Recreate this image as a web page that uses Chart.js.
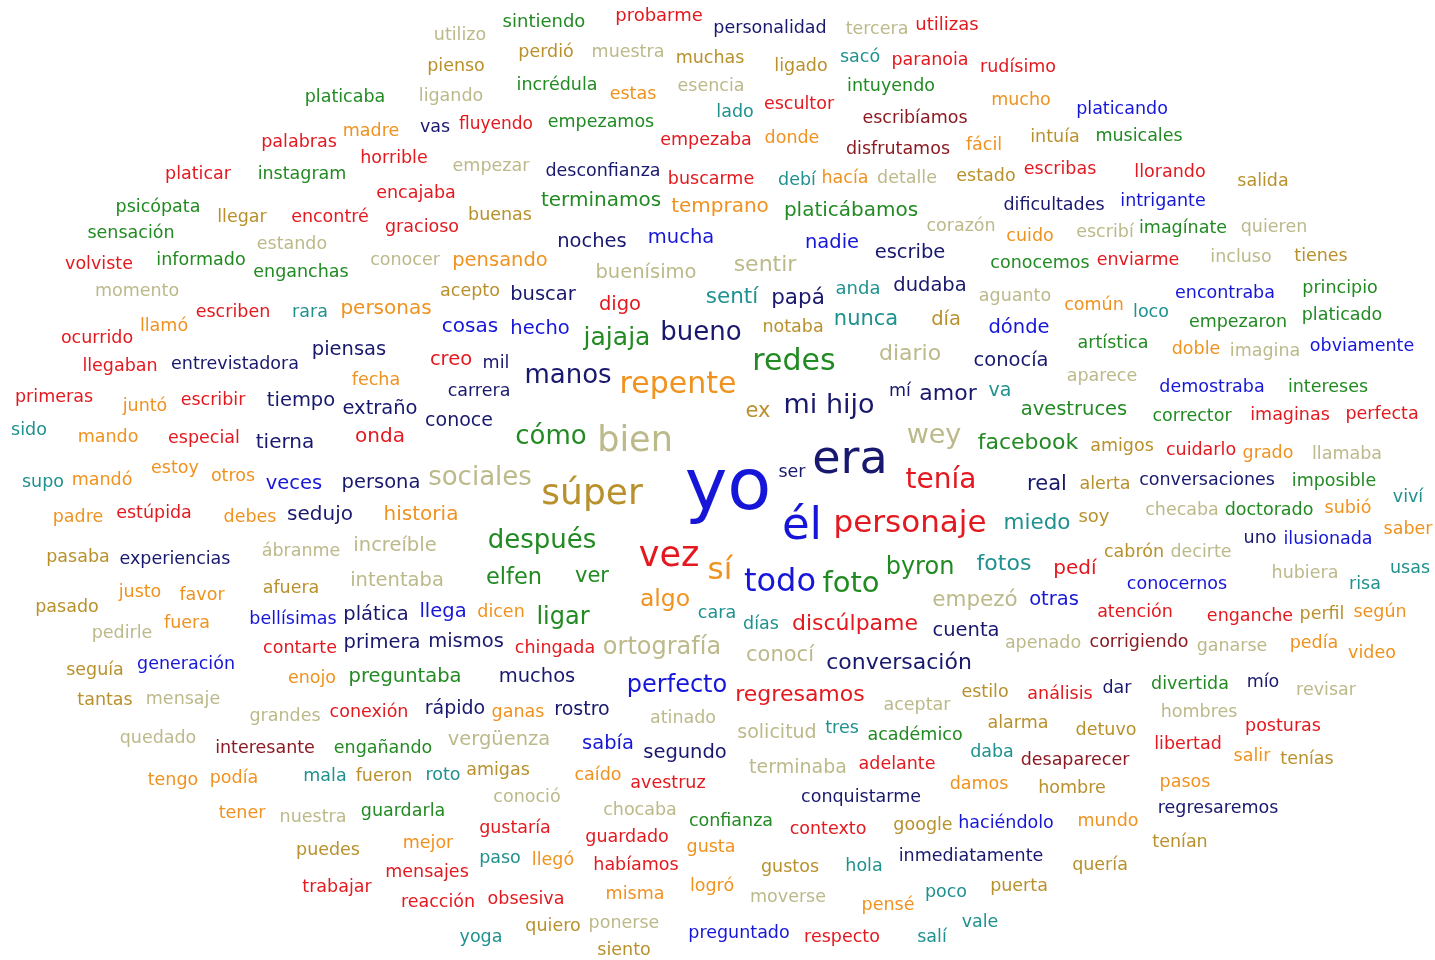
<!DOCTYPE html>
<html>
<head>
<meta charset="utf-8">
<title>Nube de palabras</title>
<script src="https://cdn.jsdelivr.net/npm/chart.js@4"></script>
<style>
  html, body { margin: 0; padding: 0; background: #fff; }
  #caja { width: 1435px; height: 960px; position: relative; }
</style>
</head>
<body>
<div id="caja"><canvas id="nube"></canvas></div>
<script>
// palabras de la nube, en filas de 10
var palabras = [
  'utilizo','sintiendo','probarme','personalidad','tercera','utilizas','pienso','perdió','muestra','muchas',
  'ligado','sacó','paranoia','rudísimo','platicaba','ligando','incrédula','estas','esencia','intuyendo',
  'mucho','platicando','lado','escultor','escribíamos','vas','fluyendo','empezamos','madre','palabras',
  'empezaba','donde','disfrutamos','fácil','intuía','musicales','horrible','platicar','instagram','empezar',
  'desconfianza','buscarme','debí','hacía','detalle','estado','escribas','llorando','salida','encajaba',
  'terminamos','temprano','platicábamos','corazón','dificultades','intrigante','psicópata','llegar','encontré','gracioso',
  'buenas','noches','mucha','nadie','escribe','cuido','escribí','imagínate','quieren','sensación',
  'estando','volviste','informado','enganchas','conocer','pensando','buenísimo','sentir','conocemos','enviarme',
  'incluso','tienes','momento','acepto','buscar','digo','sentí','papá','anda','dudaba',
  'aguanto','común','loco','encontraba','principio','platicado','empezaron','llamó','escriben','rara',
  'personas','cosas','hecho','jajaja','bueno','notaba','nunca','día','dónde','ocurrido',
  'llegaban','entrevistadora','piensas','creo','mil','manos','repente','redes','diario','conocía',
  'artística','doble','imagina','obviamente','fecha','carrera','aparece','primeras','juntó','escribir',
  'tiempo','extraño','conoce','ex','mi hijo','mí','amor','va','demostraba','intereses',
  'avestruces','corrector','imaginas','perfecta','sido','mando','especial','tierna','onda','cómo',
  'bien','wey','facebook','amigos','cuidarlo','grado','llamaba','supo','mandó','estoy',
  'otros','veces','persona','sociales','súper','yo','ser','era','tenía','real',
  'alerta','conversaciones','imposible','viví','padre','estúpida','debes','sedujo','historia','él',
  'personaje','miedo','soy','checaba','doctorado','subió','saber','uno','ilusionada','pasaba',
  'experiencias','ábranme','increíble','después','cabrón','decirte','vez','sí','byron','fotos',
  'pedí','conocernos','hubiera','risa','usas','justo','favor','afuera','intentaba','elfen',
  'ver','todo','foto','empezó','otras','algo','cara','atención','enganche','perfil',
  'según','pasado','pedirle','fuera','bellísimas','plática','llega','dicen','ligar','días',
  'discúlpame','cuenta','contarte','primera','mismos','chingada','ortografía','conocí','conversación','apenado',
  'corrigiendo','ganarse','pedía','video','seguía','generación','enojo','preguntaba','muchos','perfecto',
  'regresamos','aceptar','estilo','análisis','dar','divertida','mío','revisar','tantas','mensaje',
  'grandes','conexión','rápido','ganas','rostro','atinado','solicitud','tres','académico','alarma',
  'detuvo','hombres','posturas','quedado','interesante','engañando','vergüenza','sabía','segundo','daba',
  'desaparecer','libertad','salir','tenías','tengo','podía','mala','fueron','roto','amigas',
  'caído','avestruz','terminaba','adelante','damos','hombre','pasos','conoció','chocaba','conquistarme',
  'regresaremos','tener','nuestra','guardarla','gustaría','confianza','contexto','google','haciéndolo','mundo',
  'guardado','puedes','mejor','paso','llegó','gusta','tenían','mensajes','habíamos','gustos',
  'hola','inmediatamente','quería','trabajar','logró','moverse','pensé','poco','puerta','reacción',
  'obsesiva','misma','quiero','ponerse','yoga','preguntado','respecto','salí','vale','siento'
];

var posX = [
  460,544,659,770,877,947,456,546,628,710,
  801,860,930,1018,345,451,557,633,711,891,
  1021,1122,735,799,915,435,496,601,371,299,
  706,792,898,984,1055,1139,394,198,302,491,
  603,711,797,845,907,986,1060,1170,1263,416,
  601,720,851,961,1054,1163,158,242,330,422,
  500,592,681,832,910,1030,1105,1183,1274,131,
  292,99,201,301,405,500,646,765,1040,1138,
  1241,1321,137,470,543,620,732,798,858,930,
  1015,1094,1151,1225,1340,1342,1238,164,233,310,
  386,470,540,617,701,793,866,946,1019,97,
  120,235,349,451,496,568,678,794,910,1011,
  1113,1196,1265,1362,376,479,1102,54,145,213,
  301,380,459,758,829,900,948,1000,1212,1328,
  1074,1192,1290,1382,29,108,204,285,380,551,
  635,934,1028,1122,1201,1268,1347,43,102,175,
  233,294,381,480,592,728,792,850,941,1047,
  1105,1207,1334,1408,78,154,250,320,421,802,
  910,1037,1094,1182,1269,1348,1408,1260,1328,78,
  175,301,395,542,1134,1201,669,720,920,1004,
  1075,1177,1305,1365,1410,140,202,291,397,514,
  592,780,851,975,1054,665,717,1135,1250,1322,
  1380,67,122,187,293,376,443,501,563,761,
  855,966,300,382,466,555,662,780,899,1043,
  1139,1232,1314,1372,95,186,312,405,537,677,
  800,917,985,1060,1117,1190,1263,1326,105,183,
  285,369,455,518,582,683,777,842,915,1018,
  1106,1199,1283,158,265,383,499,608,685,992,
  1075,1188,1252,1307,173,234,325,384,443,498,
  598,668,798,897,979,1072,1185,527,640,861,
  1218,242,313,403,515,731,828,923,1006,1108,
  627,328,428,500,553,711,1180,427,636,790,
  864,971,1100,337,712,788,888,946,1019,438,
  526,635,553,624,481,739,842,932,980,624
];

var posY = [
  35,22,16,28,29,25,66,52,52,58,
  66,57,60,67,97,96,85,94,86,86,
  100,109,112,104,118,127,125,122,131,142,
  140,138,149,145,137,136,158,174,174,166,
  171,179,180,178,178,176,169,172,181,193,
  201,207,211,226,205,201,207,217,217,227,
  215,242,238,243,253,236,232,228,227,233,
  244,264,260,272,260,261,273,265,263,260,
  257,256,291,291,295,305,297,298,289,286,
  296,305,312,293,288,315,322,326,312,312,
  309,327,329,338,333,327,320,320,328,338,
  366,364,350,360,363,376,385,362,354,361,
  343,349,351,346,380,391,376,397,406,400,
  401,409,421,412,406,391,394,391,387,387,
  410,416,415,414,430,437,438,443,437,437,
  442,436,443,446,450,453,454,482,480,468,
  476,484,483,478,495,490,472,461,481,485,
  484,480,481,497,517,513,517,515,515,527,
  524,523,517,510,510,508,529,538,539,557,
  559,551,546,541,552,552,557,571,568,564,
  569,584,573,584,568,592,595,588,581,578,
  577,583,584,600,600,600,613,612,616,614,
  612,607,633,623,619,615,612,612,618,624,
  624,631,648,643,642,648,648,656,663,643,
  642,646,643,653,670,664,678,677,677,686,
  695,705,692,694,688,684,682,690,700,699,
  716,712,709,712,710,718,733,728,735,723,
  730,712,726,738,748,748,740,744,753,752,
  760,744,756,759,780,778,776,776,775,770,
  775,783,768,764,784,788,782,797,810,797,
  808,813,817,811,828,821,829,825,823,821,
  837,850,843,858,860,847,842,872,865,867,
  866,856,865,887,886,897,905,892,886,902,
  899,894,926,923,937,933,937,937,922,950
];

// peso de cada palabra (frecuencia relativa)
var pesos = [
  17.5,18,18,17.5,17.5,18,17.5,17.5,17.5,17.5,
  17.5,17.5,17.5,17.5,17.5,17.5,17.5,17.5,17.5,17.5,
  17.5,17.5,17.5,17.5,17.5,17.5,17,17.5,17.5,17.5,
  17.5,17.5,17.5,17.5,17.5,17.5,17.5,17.5,17.5,17.5,
  17.5,17.5,17.5,17.5,17.5,17.5,17.5,17.5,17.5,17.5,
  20,20,20,17.5,17.5,17.5,17.5,17.5,17.5,17.5,
  17.5,19.5,19.5,19.5,19.5,17.5,17.5,17.5,17.5,17.5,
  17.5,17.5,17.5,17.5,17.5,19.5,19.5,22,17.5,17.5,
  17.5,17.5,17.5,17.5,19.5,19.5,21.5,21.5,18,19.5,
  17.5,17.5,17.5,17.5,17.5,17.5,17.5,17.5,17.5,17.5,
  20,20,19.5,25,26,17.5,21,19.5,19.5,17.5,
  17.5,17.5,19.5,19.5,17.5,26,30,30,22,19.5,
  17.5,17.5,17.5,17.5,17.5,17.5,17.5,17.5,17.5,17.5,
  19.5,19.5,19,21,27,17.5,22,19,17.5,17.5,
  19.5,17.5,17.5,17.5,17.5,17.5,17.5,20,20,26,
  35,27,22,17.5,17.5,17.5,17.5,17.5,17.5,17.5,
  17.5,19.5,19.5,26,36,72,17.5,46,28,21,
  17.5,17.5,17.5,17.5,17.5,17.5,17.5,20,20,45,
  31,21.5,18,17.5,17.5,17.5,17.5,17.5,17.5,17.5,
  17.5,17.5,19.5,26,17.5,17.5,35,31,24,22,
  20,17.5,17.5,17.5,17.5,17.5,17.5,17.5,19.5,22.5,
  21,32,29,21.5,19.5,23.5,17.5,17.5,17.5,17.5,
  17.5,17.5,17.5,17.5,17.5,19.5,19.5,17.5,24,17.5,
  22,19.5,17.5,19.5,19.5,17.5,24,21,22,17.5,
  17.5,17.5,17.5,17.5,17.5,17.5,17.5,19.5,19.5,24,
  22,17.5,17.5,17.5,17.5,17.5,17.5,17.5,17.5,17.5,
  17.5,17.5,19,17.5,19,17.5,19,17.5,17.5,17.5,
  17.5,17.5,17.5,17.5,17.5,17.5,19.5,19.5,19.5,17.5,
  17.5,17.5,17.5,17.5,17.5,17.5,17.5,17.5,17.5,17.5,
  17.5,17.5,19,17.5,17.5,17.5,17.5,17.5,17.5,17.5,
  17.5,17.5,17.5,17.5,17.5,17.5,17.5,17.5,17.5,17.5,
  17.5,17.5,17.5,17.5,17.5,17.5,17.5,17.5,17.5,17.5,
  17.5,17.5,17.5,17.5,17.5,17.5,17.5,17.5,17.5,17.5,
  17.5,17.5,17.5,17.5,17.5,17.5,17.5,17.5,17.5,17.5
];

// grupo de color de cada palabra
var grupos = [
  'K','V','R','N','K','R','G','G','K','G',
  'G','T','R','R','V','K','V','O','K','V',
  'O','B','T','R','D','N','R','V','O','R',
  'R','O','D','O','G','V','R','R','V','K',
  'N','R','T','O','K','G','R','R','G','R',
  'V','O','V','K','N','B','V','G','R','R',
  'G','N','B','B','N','O','K','V','K','V',
  'K','R','V','V','K','O','K','K','V','R',
  'K','G','K','G','N','R','T','N','T','N',
  'K','O','T','B','V','V','V','O','R','T',
  'O','B','B','V','N','G','T','G','B','R',
  'R','N','N','R','N','N','O','V','K','N',
  'V','O','K','B','O','N','K','R','O','R',
  'N','N','N','G','N','N','N','T','B','V',
  'V','V','R','R','T','O','R','N','R','V',
  'K','K','V','G','R','O','K','T','O','O',
  'O','B','N','K','G','B','N','N','R','N',
  'G','N','V','T','O','R','O','N','O','B',
  'R','T','G','K','V','O','O','N','B','G',
  'N','K','K','V','G','K','R','O','V','T',
  'R','B','K','T','T','O','O','G','K','V',
  'V','B','V','K','B','O','T','R','R','G',
  'O','G','K','O','B','N','B','O','V','T',
  'R','N','R','N','N','R','K','K','N','K',
  'D','K','O','O','G','B','O','V','N','B',
  'R','K','G','R','N','V','N','K','G','K',
  'K','R','N','O','N','K','K','T','V','G',
  'G','K','R','K','D','V','K','B','N','T',
  'D','R','O','G','O','O','T','G','T','G',
  'O','R','K','R','O','G','O','K','K','N',
  'N','O','K','V','R','V','R','G','B','O',
  'R','G','O','T','O','O','G','R','R','G',
  'T','N','G','R','O','K','O','T','G','R',
  'R','O','G','K','T','B','R','T','T','G'
];

var paleta = {
  R: '#e3191f', D: '#8c1a22', O: '#f0921f', G: '#b8912c', K: '#bcb98a',
  V: '#228a22', T: '#1f918f', B: '#1616d8', N: '#18186e'
};

var textoNube = {
  id: 'textoNube',
  afterDatasetsDraw: function(chart) {
    var ctx = chart.ctx;
    var meta = chart.getDatasetMeta(0);
    ctx.save();
    ctx.textAlign = 'center';
    ctx.textBaseline = 'middle';
    meta.data.forEach(function(pt, i) {
      ctx.font = pesos[i] + 'px "DejaVu Sans", Verdana, sans-serif';
      ctx.fillStyle = paleta[grupos[i]];
      ctx.fillText(palabras[i], pt.x, pt.y);
    });
    ctx.restore();
  }
};

var puntos = palabras.map(function(p, i) {
  return { x: posX[i], y: posY[i] };
});

var config = {
  type: 'scatter',
  data: {
    datasets: [{
      label: 'palabras',
      data: puntos,
      pointRadius: 0,
      pointHoverRadius: 0
    }]
  },
  options: {
    responsive: true,
    maintainAspectRatio: false,
    animation: false,
    layout: { padding: 0 },
    plugins: {
      legend: { display: false },
      tooltip: { enabled: false }
    },
    scales: {
      x: { type: 'linear', min: 0, max: 1435, display: false },
      y: { type: 'linear', min: 0, max: 960, reverse: true, display: false }
    }
  },
  plugins: [textoNube]
};

window.nube = new Chart(document.getElementById('nube'), config);
</script>
</body>
</html>
